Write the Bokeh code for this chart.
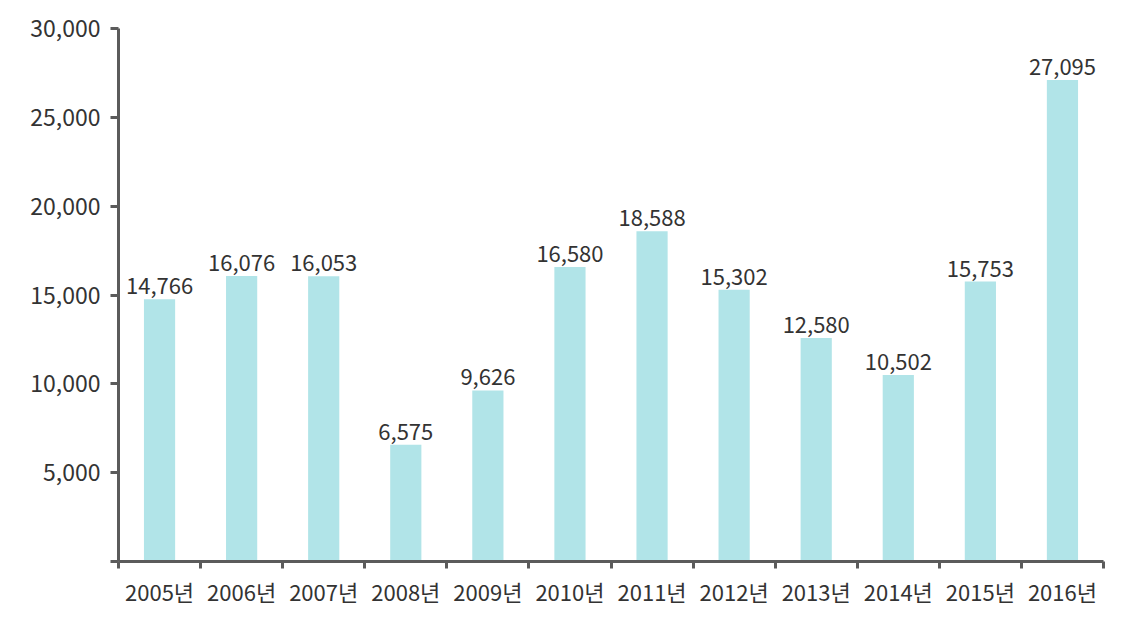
from bokeh.plotting import figure
from bokeh.models import Range1d, FixedTicker, ColumnDataSource
from bokeh.core.properties import value
from bokeh.embed import file_html
from bokeh.resources import INLINE

categories = ["2005년", "2006년", "2007년", "2008년", "2009년", "2010년",
              "2011년", "2012년", "2013년", "2014년", "2015년", "2016년"]
values = [14766, 16076, 16053, 6575, 9626, 16580, 18588, 15302, 12580, 10502, 15753, 27095]
y_ticks = [0, 5000, 10000, 15000, 20000, 25000, 30000]

FONT = "Noto Sans CJK KR"
AXIS = "#5b5b5b"
TEXT = "#333333"

xs = [i + 0.5 for i in range(len(categories))]
src = ColumnDataSource(dict(x=xs, top=values, label=[f"{v:,}" for v in values]))

p = figure(width=1140, height=610, output_backend="svg", toolbar_location=None,
           x_range=Range1d(0, len(categories)), y_range=Range1d(0, 30000),
           min_border_left=118, min_border_top=28, min_border_bottom=49, min_border_right=37)
p.outline_line_color = None
p.xgrid.grid_line_color = None
p.ygrid.grid_line_color = None

p.vbar(x="x", top="top", width=0.38, source=src, color="#b1e4e8", line_color=None)
p.text(x="x", y="top", text="label", source=src, text_align="center", text_baseline="bottom",
       y_offset=-5, text_font=value(FONT), text_font_size="22px", text_color=TEXT)

xa = p.xaxis[0]
xa.ticker = FixedTicker(ticks=xs, minor_ticks=list(range(len(categories) + 1)))
xa.major_label_overrides = {x: c for x, c in zip(xs, categories)}
xa.major_tick_line_color = None
xa.minor_tick_out = 7
xa.minor_tick_in = 0
xa.minor_tick_line_width = 3
xa.minor_tick_line_color = AXIS
xa.axis_line_color = AXIS
xa.axis_line_width = 3
xa.major_label_text_font = FONT
xa.major_label_text_font_size = "22px"
xa.major_label_text_color = TEXT
xa.major_label_standoff = 6

ya = p.yaxis[0]
ya.ticker = FixedTicker(ticks=y_ticks)
ya.major_label_overrides = {t: (f"{t:,}" if t else "") for t in y_ticks}
ya.minor_tick_line_color = None
ya.major_tick_out = 8
ya.major_tick_in = 0
ya.major_tick_line_width = 3
ya.major_tick_line_color = AXIS
ya.axis_line_color = AXIS
ya.axis_line_width = 3
ya.major_label_text_font = FONT
ya.major_label_text_font_size = "23px"
ya.major_label_text_color = TEXT
ya.major_label_standoff = 10

open("out.html", "w").write(file_html(p, INLINE))
